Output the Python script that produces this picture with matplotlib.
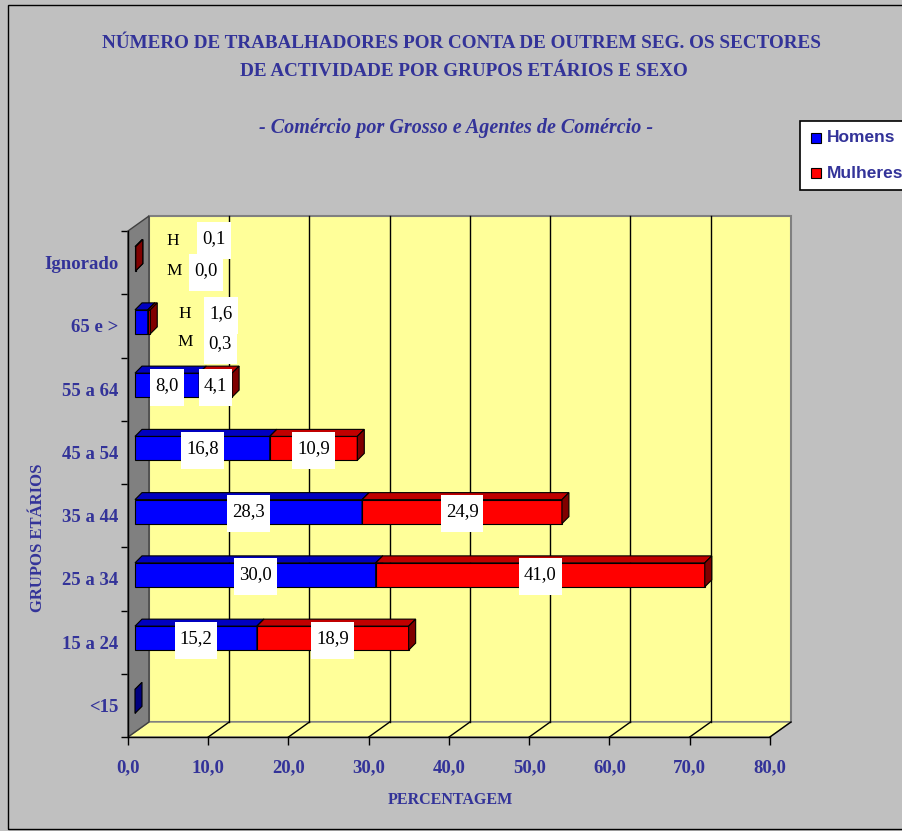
import matplotlib
matplotlib.use("Agg")
from matplotlib import pyplot as plt
from matplotlib.patches import Polygon, Rectangle

# dados (percentagem)
categorias = ["<15", "15 a 24", "25 a 34", "35 a 44", "45 a 54",
              "55 a 64", "65 e >", "Ignorado"]
homens = [0.0, 15.2, 30.0, 28.3, 16.8, 8.0, 1.6, 0.1]
mulheres = [None, 18.9, 41.0, 24.9, 10.9, 4.1, 0.3, 0.0]
valores_x = [0, 10, 20, 30, 40, 50, 60, 70, 80]
rotulos_x = ["0,0", "10,0", "20,0", "30,0", "40,0", "50,0", "60,0", "70,0", "80,0"]

TXT_AZUL = "#333399"
FUNDO = "#C0C0C0"
AMARELO = "#FFFF99"
CORES_H = ["#0000FF", "#0000C0", "#000080"]
CORES_M = ["#FF0000", "#C00000", "#800000"]
SERIF = ["Liberation Serif", "DejaVu Serif"]
SANS = ["Liberation Sans", "DejaVu Sans"]

W, H = 903, 831
PX_X = 642 / 80.0   # pixels por 1%
PX_Y = 506 / 8.0    # pixels por categoria


def px2x(p):
    return p / PX_X


def px2y(p):
    return p / PX_Y


# efeito 3D
PAREDE_X, PAREDE_Y = px2x(21), px2y(15)
FRENTE_X, FRENTE_Y = px2x(7), px2y(4)
PROF_X, PROF_Y = px2x(7), px2y(7)
MEIA_ALT = px2y(12)


def fmt(v):
    return ("%.1f" % v).replace(".", ",")


def drawSegment(ax, x0, x1, y, cores):
    a = x0 + FRENTE_X
    b = x1 + FRENTE_X
    yb = y + FRENTE_Y - MEIA_ALT
    yt = y + FRENTE_Y + MEIA_ALT
    faces = [
        ([(a, yb), (b, yb), (b, yt), (a, yt)], cores[0]),
        ([(a, yt), (b, yt), (b + PROF_X, yt + PROF_Y), (a + PROF_X, yt + PROF_Y)], cores[1]),
        ([(b, yb), (b + PROF_X, yb + PROF_Y), (b + PROF_X, yt + PROF_Y), (b, yt)], cores[2]),
    ]
    for pts, c in faces:
        ax.add_patch(Polygon(pts, closed=True, fc=c, ec="black", lw=0.8,
                             zorder=5, clip_on=False))


fig = plt.figure(figsize=(W / 100, H / 100), dpi=100)
fig.patch.set_facecolor(FUNDO)
fig.patches.append(Rectangle((8 / W, 2 / H), 1.0, (826 - 2) / H, transform=fig.transFigure,
                             fill=False, ec="black", lw=1.0))

ax = fig.add_axes([128 / W, 94 / H, 642 / W, 506 / H])
ax.set_facecolor("none")
ax.set_xlim(0, 80)
ax.set_ylim(-0.5, 7.5)
for s in ["top", "right"]:
    ax.spines[s].set_visible(False)
for s in ["left", "bottom"]:
    ax.spines[s].set_color("black")
    ax.spines[s].set_linewidth(1.0)
    ax.spines[s].set_zorder(6)

# parede do fundo, chao e parede lateral
ax.add_patch(Rectangle((PAREDE_X, -0.5 + PAREDE_Y), 80, 8, fc=AMARELO, ec="#808080",
                       lw=1.5, zorder=1, clip_on=False))
ax.add_patch(Polygon([(0, -0.5), (80, -0.5), (80 + PAREDE_X, -0.5 + PAREDE_Y),
                      (PAREDE_X, -0.5 + PAREDE_Y)], fc=AMARELO, ec="#808080", lw=1.0,
                     zorder=1, clip_on=False))
ax.add_patch(Polygon([(0, -0.5), (0, 7.5), (PAREDE_X, 7.5 + PAREDE_Y),
                      (PAREDE_X, -0.5 + PAREDE_Y)], fc="#808080", ec="#404040", lw=1.0,
                     zorder=2, clip_on=False))
for v in valores_x[1:-1]:
    ax.plot([v + PAREDE_X, v + PAREDE_X], [-0.5 + PAREDE_Y, 7.5 + PAREDE_Y],
            color="black", lw=1.0, zorder=3, clip_on=False)
for v in valores_x[1:]:
    ax.plot([v, v + PAREDE_X], [-0.5, -0.5 + PAREDE_Y], color="black", lw=1.0,
            zorder=3, clip_on=False)

# barras empilhadas
for i in range(len(categorias)):
    drawSegment(ax, 0, homens[i], i, CORES_H)
    if mulheres[i] is not None:
        drawSegment(ax, homens[i], homens[i] + mulheres[i], i, CORES_M)

# eixos
ax.set_xticks(valores_x)
ax.set_xticklabels(rotulos_x)
ax.tick_params(axis="x", direction="out", length=6, width=1.0, pad=10,
               labelsize=13.5, labelcolor=TXT_AZUL)
ax.set_yticks([i - 0.5 for i in range(len(categorias) + 1)])
ax.set_yticklabels([])
ax.set_yticks(range(len(categorias)), minor=True)
ax.set_yticklabels(categorias, minor=True)
ax.tick_params(axis="y", which="major", direction="out", length=5, width=1.0)
ax.tick_params(axis="y", which="minor", length=0, pad=7, labelsize=13.5,
               labelcolor=TXT_AZUL)
for t in ax.get_xticklabels() + ax.get_yticklabels(minor=True):
    t.set_family(SERIF)
    t.set_weight("bold")

# rotulos de dados
rotulos = []
for i in range(len(categorias)):
    if homens[i] < 5:
        continue
    yc = i + FRENTE_Y
    rotulos.append(ax.text(homens[i] / 2 + FRENTE_X, yc, fmt(homens[i]),
                           ha="center", va="center", family=SERIF, fontsize=13.5,
                           zorder=8))
    if mulheres[i] is not None:
        rotulos.append(ax.text(homens[i] + mulheres[i] / 2 + FRENTE_X, yc, fmt(mulheres[i]),
                               ha="center", va="center", family=SERIF, fontsize=13.5,
                               zorder=8))

# rotulos H / M das barras pequenas
notas = [(7, 5.6, 0.34, 10.7, 0.38, 5.7, -0.13, 9.7, -0.13),
         (6, 7.1, 0.19, 11.6, 0.19, 7.1, -0.25, 11.5, -0.28)]
for cat, hx, hy, vhx, vhy, mx, my, vmx, vmy in notas:
    ax.text(hx, cat + hy, "H", ha="center", va="center", family=SERIF, fontsize=12.5,
            zorder=8)
    ax.text(mx, cat + my, "M", ha="center", va="center", family=SERIF, fontsize=12.5,
            zorder=8)
    rotulos.append(ax.text(vhx, cat + vhy, fmt(homens[cat]), ha="center", va="center",
                           family=SERIF, fontsize=13.5, zorder=8))
    rotulos.append(ax.text(vmx, cat + vmy, fmt(mulheres[cat]), ha="center", va="center",
                           family=SERIF, fontsize=13.5, zorder=8))

# titulos
fig.text(462 / W, 1 - 44 / H, "NÚMERO DE TRABALHADORES POR CONTA DE OUTREM SEG. OS SECTORES",
         ha="center", va="center", family=SERIF, weight="bold", fontsize=13.8,
         color=TXT_AZUL)
fig.text(464 / W, 1 - 72 / H, "DE ACTIVIDADE POR GRUPOS ETÁRIOS E SEXO",
         ha="center", va="center", family=SERIF, weight="bold", fontsize=13.8,
         color=TXT_AZUL)
fig.text(456 / W, 1 - 128 / H, "- Comércio por Grosso e Agentes de Comércio -",
         ha="center", va="center", family=SERIF, weight="bold", style="italic",
         fontsize=14.5, color=TXT_AZUL)
fig.text(38 / W, 1 - 538 / H, "GRUPOS ETÁRIOS", rotation=90, ha="center", va="center",
         family=SERIF, weight="bold", fontsize=12, color=TXT_AZUL)
fig.text(450 / W, 1 - 800 / H, "PERCENTAGEM", ha="center", va="center",
         family=SERIF, weight="bold", fontsize=11.5, color=TXT_AZUL)

# legenda
fig.patches.append(Rectangle((800 / W, 1 - 190 / H), 120 / W, 69 / H,
                             transform=fig.transFigure, fc="white", ec="black", lw=1.2))
for yy, cor, nome in [(138, CORES_H[0], "Homens"), (173, CORES_M[0], "Mulheres")]:
    fig.patches.append(Rectangle((811 / W, 1 - (yy + 5) / H), 10 / W, 10 / H,
                                 transform=fig.transFigure, fc=cor, ec="black", lw=0.8))
    fig.text(827 / W, 1 - yy / H, nome, ha="left", va="center", family=SANS,
             weight="bold", fontsize=12.5, color=TXT_AZUL)

# caixas brancas por tras dos rotulos
fig.canvas.draw()
inv = ax.transData.inverted()
for t in rotulos:
    bb = t.get_window_extent()
    cx = (bb.x0 + bb.x1) / 2
    cy = (bb.y0 + bb.y1) / 2 - 2
    bw = bb.width + 10
    bh = 37
    (x0, y0) = inv.transform((cx - bw / 2, cy - bh / 2))
    (x1, y1) = inv.transform((cx + bw / 2, cy + bh / 2))
    ax.add_patch(Rectangle((x0, y0), x1 - x0, y1 - y0, fc="white", ec="none",
                           zorder=7, clip_on=False))

fig.savefig("out.png", dpi=100, facecolor=fig.get_facecolor())
